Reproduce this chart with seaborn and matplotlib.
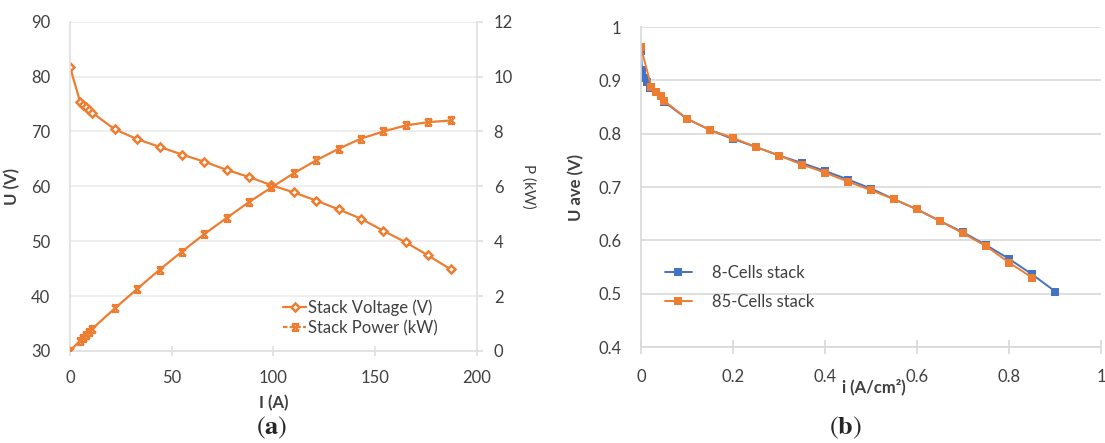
import matplotlib
matplotlib.use("Agg")
import matplotlib.pyplot as plt
from matplotlib.path import Path
from matplotlib.lines import Line2D
import seaborn as sns
import pandas as pd

# (a) stack polarisation and power curve
current_a = [0, 5, 6.5, 8, 9.5, 11, 22, 33, 44, 55, 66, 77, 88, 99, 110, 121, 132, 143, 154, 165, 176, 187]
voltage_v = [81.8, 75.4, 74.8, 74.4, 74.0, 73.4, 70.4, 68.6, 67.2, 65.8, 64.5, 63.0, 61.7, 60.2,
             58.9, 57.4, 55.8, 54.1, 51.9, 49.8, 47.4, 44.9]
power_kw = [0, 0.38, 0.49, 0.60, 0.70, 0.81, 1.55, 2.26, 2.96, 3.62, 4.26, 4.85, 5.43, 5.96,
            6.48, 6.95, 7.37, 7.74, 8.00, 8.22, 8.34, 8.40]

# (b) average cell voltage vs current density
i_8cells = [0, 0.0025, 0.0075, 0.0125, 0.02, 0.05, 0.1, 0.15, 0.2, 0.25, 0.3, 0.35, 0.4, 0.45,
            0.5, 0.55, 0.6, 0.65, 0.7, 0.75, 0.8, 0.85, 0.9]
u_8cells = [0.955, 0.920, 0.905, 0.897, 0.885, 0.860, 0.828, 0.807, 0.790, 0.775, 0.759, 0.745,
            0.730, 0.714, 0.697, 0.677, 0.658, 0.636, 0.615, 0.591, 0.565, 0.536, 0.504]
i_85cells = [0, 0.023, 0.033, 0.043, 0.05, 0.1, 0.15, 0.2, 0.25, 0.3, 0.35, 0.4, 0.45, 0.5,
             0.55, 0.6, 0.65, 0.7, 0.75, 0.8, 0.85]
u_85cells = [0.962, 0.887, 0.879, 0.871, 0.862, 0.828, 0.807, 0.792, 0.775, 0.759, 0.742, 0.727,
             0.710, 0.694, 0.677, 0.658, 0.636, 0.613, 0.589, 0.558, 0.530]
stack_names = ["8-Cells stack", "85-Cells stack"]

ORANGE = "#ED7D31"
BLUE = "#4472C4"
TXT = "#404040"
FS = 12

sns.set_theme(style="white")
plt.rcParams["font.family"] = ["Lato", "DejaVu Sans"]
plt.rcParams["mathtext.fontset"] = "stix"

fig = plt.figure(figsize=(11.05, 4.43), dpi=100)
ax1 = fig.add_axes([0.0633, 0.2077, 0.3684, 0.7433])
ax2 = ax1.twinx()
axb = fig.add_axes([0.580, 0.2167, 0.4167, 0.7223])

# hourglass-like "x" marker used by the power series
hx = Path([(-1, -1), (1, 1), (-1, 1), (1, -1), (-1, 1), (1, 1), (-1, -1), (1, -1)],
          [Path.MOVETO, Path.LINETO, Path.MOVETO, Path.LINETO,
           Path.MOVETO, Path.LINETO, Path.MOVETO, Path.LINETO])

sns.lineplot(x=current_a, y=voltage_v, ax=ax1, color=ORANGE, linewidth=1.6, marker="D",
             markersize=4, markerfacecolor="white", markeredgecolor=ORANGE, markeredgewidth=1.8,
             estimator=None, sort=False)
sns.lineplot(x=current_a, y=power_kw, ax=ax2, color=ORANGE, linewidth=1.6, marker=hx,
             markersize=5, markerfacecolor="none", markeredgecolor=ORANGE, markeredgewidth=1.6,
             estimator=None, sort=False)

ax1.set_xlim(0, 200)
ax1.set_ylim(30, 90)
ax2.set_ylim(0, 12)
ax1.set_xticks([0, 50, 100, 150, 200])
ax1.set_yticks(range(30, 91, 10))
ax2.set_yticks(range(0, 13, 2))
ax1.yaxis.grid(True, color="#EBEBEB", linewidth=1.2)
ax1.set_axisbelow(True)
for a in (ax1, ax2):
    for s in a.spines.values():
        s.set_visible(False)
ax1.spines["left"].set_visible(True)
ax1.spines["left"].set_color("#E0E0E0")
ax1.spines["bottom"].set_visible(True)
ax1.spines["bottom"].set_color("#E0E0E0")
ax2.spines["right"].set_visible(True)
ax2.spines["right"].set_color("#E0E0E0")
ax1.tick_params(axis="x", direction="inout", length=7, color="#E0E0E0", labelsize=FS,
                labelcolor=TXT, pad=10, bottom=True)
ax1.tick_params(axis="y", left=False, labelsize=FS, labelcolor=TXT, pad=8)
ax2.tick_params(axis="y", right=True, direction="out", length=4, color="#E0E0E0",
                labelsize=FS, labelcolor=TXT, pad=8)
ax1.set_xlabel("I (A)", fontsize=FS, fontweight="bold", color=TXT, labelpad=7)
ax1.set_ylabel("U (V)", fontsize=FS, fontweight="bold", color=TXT, labelpad=8)
ax2.set_ylabel("P (kW)", fontsize=11, color=TXT, rotation=270, labelpad=16)

handles = [
    Line2D([], [], color=ORANGE, linewidth=1.6, marker="D", markersize=4, markerfacecolor="white",
           markeredgecolor=ORANGE, markeredgewidth=1.8),
    Line2D([], [], color=ORANGE, linewidth=1.6, marker=hx, markersize=5, markerfacecolor="none",
           markeredgecolor=ORANGE, markeredgewidth=1.6, linestyle=(0, (2, 1))),
]
ax2.legend(handles, ["Stack Voltage (V)", "Stack Power (kW)"], loc="lower right",
           bbox_to_anchor=(0.94, 0.0), frameon=False, fontsize=FS, handlelength=1.4,
           handletextpad=0.1, labelspacing=0.25, labelcolor=TXT)

# (b)
df = pd.DataFrame({
    "i": i_8cells + i_85cells,
    "U": u_8cells + u_85cells,
    "stack": [stack_names[0]] * len(i_8cells) + [stack_names[1]] * len(i_85cells),
})
sns.lineplot(data=df, x="i", y="U", hue="stack", hue_order=stack_names,
             palette=[BLUE, ORANGE], marker="s", markersize=6, markeredgewidth=0,
             linewidth=1.4, estimator=None, sort=False, ax=axb)
axb.set_xlim(0, 1)
axb.set_ylim(0.4, 1.0)
axb.set_xticks([0, 0.2, 0.4, 0.6, 0.8, 1])
axb.set_xticklabels(["0", "0.2", "0.4", "0.6", "0.8", "1"])
axb.set_yticks([0.4, 0.5, 0.6, 0.7, 0.8, 0.9, 1.0])
axb.set_yticklabels(["0.4", "0.5", "0.6", "0.7", "0.8", "0.9", "1"])
axb.yaxis.grid(True, color="#D9D9D9", linewidth=1.2)
axb.set_axisbelow(True)
for s in axb.spines.values():
    s.set_visible(False)
axb.spines["left"].set_visible(True)
axb.spines["left"].set_color("#D9D9D9")
axb.spines["bottom"].set_visible(True)
axb.spines["bottom"].set_color("#D9D9D9")
axb.tick_params(axis="x", bottom=True, direction="inout", length=10, color="#D9D9D9",
                labelsize=FS, labelcolor=TXT, pad=11)
axb.tick_params(axis="y", left=False, labelsize=FS, labelcolor=TXT, pad=8)
axb.set_xlabel("i (A/cm²)", fontsize=FS, fontweight="bold", color=TXT)
axb.xaxis.set_label_coords(0.505, -0.10)
axb.set_ylabel("U ave (V)", fontsize=FS, fontweight="bold", color=TXT, labelpad=10)
axb.legend(loc="lower left", bbox_to_anchor=(0.02, 0.07), frameon=False, fontsize=FS,
           handlelength=1.6, handletextpad=1.2, labelspacing=0.75, labelcolor=TXT)

fig.text(272 / 1105, 1 - 428 / 443, r"$(\mathbf{a})$", ha="center", va="center", fontsize=19)
fig.text(845 / 1105, 1 - 428 / 443, r"$(\mathbf{b})$", ha="center", va="center", fontsize=19)

fig.savefig("out.png", dpi=100)
